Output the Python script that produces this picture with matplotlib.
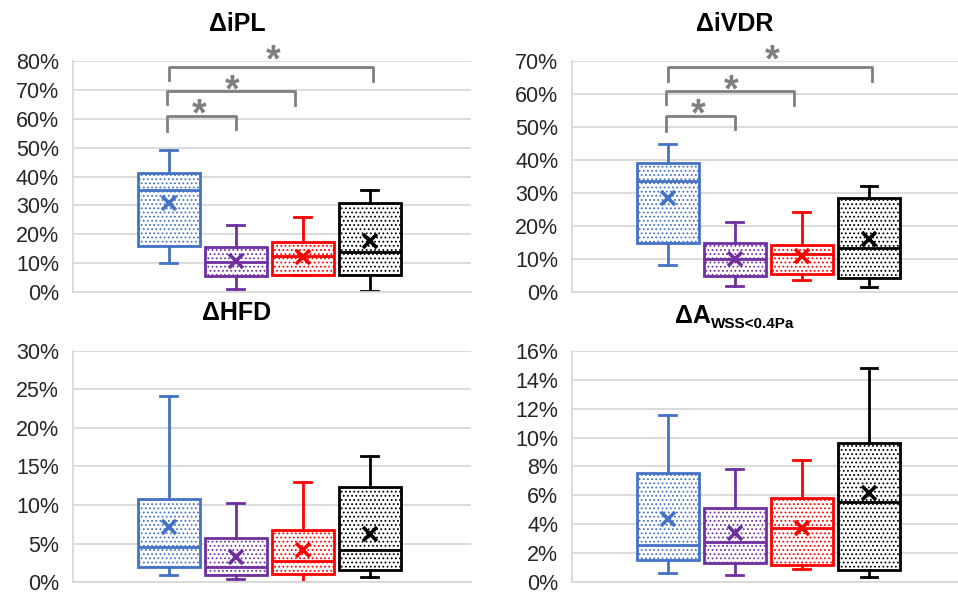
import matplotlib
matplotlib.use("Agg")
import matplotlib.pyplot as plt
from matplotlib.ticker import PercentFormatter, MultipleLocator

plt.rcParams['font.family'] = ['Liberation Sans', 'DejaVu Sans']
plt.rcParams['hatch.linewidth'] = 0.8

# Colores de los grupos
colores = ['#4472C4', '#7030A0', '#FF0000', '#000000']

# Datos (en %) : whisker bajo, Q1, mediana, Q3, whisker alto, media
ipl_lo = [9.9, 1.2, 5.8, 0.5]
ipl_q1 = [16.0, 5.5, 5.8, 5.8]
ipl_med = [35.3, 10.5, 12.4, 13.7]
ipl_q3 = [41.3, 15.7, 17.2, 30.7]
ipl_hi = [49.1, 23.2, 26.1, 35.3]
ipl_mean = [30.7, 10.8, 12.2, 17.5]

ivdr_lo = [8.2, 1.8, 3.6, 1.4]
ivdr_q1 = [15.0, 4.8, 5.4, 4.1]
ivdr_med = [33.7, 10.0, 11.5, 13.4]
ivdr_q3 = [39.1, 14.7, 14.2, 28.6]
ivdr_hi = [45.0, 21.3, 24.1, 32.2]
ivdr_mean = [28.5, 10.0, 10.9, 16.2]

hfd_lo = [0.9, 0.35, 0.0, 0.6]
hfd_q1 = [2.0, 0.9, 1.0, 1.6]
hfd_med = [4.5, 2.0, 2.7, 4.1]
hfd_q3 = [10.8, 5.75, 6.7, 12.4]
hfd_hi = [24.2, 10.2, 13.0, 16.4]
hfd_mean = [7.1, 3.3, 4.1, 6.2]

wss_lo = [0.65, 0.48, 0.88, 0.37]
wss_q1 = [1.52, 1.29, 1.18, 0.83]
wss_med = [2.56, 2.74, 3.71, 5.51]
wss_q3 = [7.56, 5.16, 5.79, 9.64]
wss_hi = [11.6, 7.86, 8.44, 14.8]
wss_mean = [4.36, 3.37, 3.71, 6.18]

# Corchetes de significancia (x izq, x der, y arriba, y pata izq, y pata der)
corch_x = [(0.97, 2.0), (0.97, 2.88), (1.0, 4.04)]
ast_x = [1.45, 1.95, 2.55]
ipl_corch_y = [61.0, 69.6, 77.9]
ipl_pata_izq = [55.8, 65.0, 73.3]
ipl_pata_der = [56.6, 64.7, 73.0]
ipl_ast_y = [64.3, 72.7, 83.1]
ivdr_corch_y = [53.4, 60.9, 68.2]
ivdr_pata_izq = [48.8, 56.9, 63.8]
ivdr_pata_der = [49.5, 56.6, 63.8]
ivdr_ast_y = [56.3, 63.6, 72.7]

fig = plt.figure(figsize=(9.58, 5.94), dpi=100)


def panel(rect, lo, q1, med, q3, hi, mean, ymax, paso, xmax):
    ax = fig.add_axes(rect)
    stats = []
    for i in range(4):
        stats.append(dict(whislo=lo[i], q1=q1[i], med=med[i], q3=q3[i],
                          whishi=hi[i], mean=mean[i], fliers=[]))
    bp = ax.bxp(stats, positions=[1, 2, 3, 4], widths=0.93, patch_artist=True,
                showmeans=True, showfliers=False, capwidths=0.25)
    for i, c in enumerate(colores):
        caja = bp['boxes'][i]
        caja.set_facecolor('white')
        caja.set_edgecolor(c)
        caja.set_hatch('....')
        caja.set_linewidth(2.0)
        bp['medians'][i].set(color=c, linewidth=2.0)
        for w in bp['whiskers'][2 * i:2 * i + 2]:
            w.set(color=c, linewidth=2.0)
        for cp in bp['caps'][2 * i:2 * i + 2]:
            cp.set(color=c, linewidth=2.0)
        bp['means'][i].set(marker='x', markeredgecolor=c, markerfacecolor=c,
                           markersize=10, markeredgewidth=2.6)
    ax.set_xlim(-0.43, xmax)
    ax.set_ylim(0, ymax)
    ax.yaxis.set_major_locator(MultipleLocator(paso))
    ax.yaxis.set_major_formatter(PercentFormatter(xmax=100, decimals=0))
    ax.set_xticks([])
    ax.yaxis.grid(True, color='#d9d9d9', linewidth=1.3)
    ax.set_axisbelow(True)
    for s in ['top', 'right']:
        ax.spines[s].set_visible(False)
    ax.spines['left'].set_color('#d9d9d9')
    ax.spines['bottom'].set_color('#d9d9d9')
    ax.spines['left'].set_linewidth(1.3)
    ax.spines['bottom'].set_linewidth(1.3)
    ax.tick_params(axis='y', length=0, pad=10, labelsize=15.5, labelcolor='#262626')
    return ax


def corchetes(ax, tops, izq, der, ast_y):
    for i in range(3):
        x0, x1 = corch_x[i]
        ax.plot([x0, x0, x1, x1], [izq[i], tops[i], tops[i], der[i]],
                color='#7f7f7f', linewidth=2.0, clip_on=False)
        ax.annotate('*', xy=(ast_x[i], ast_y[i]), xytext=(0, -14),
                    textcoords='offset points', ha='center', va='baseline',
                    fontsize=27, fontweight='bold', color='#7f7f7f',
                    annotation_clip=False)


ax1 = panel([0.0762, 0.5084, 0.4155, 0.3889], ipl_lo, ipl_q1, ipl_med, ipl_q3,
            ipl_hi, ipl_mean, 80, 10, 5.51)
corchetes(ax1, ipl_corch_y, ipl_pata_izq, ipl_pata_der, ipl_ast_y)
ax2 = panel([0.5971, 0.5084, 0.4029, 0.3889], ivdr_lo, ivdr_q1, ivdr_med, ivdr_q3,
            ivdr_hi, ivdr_mean, 70, 10, 5.33)
corchetes(ax2, ivdr_corch_y, ivdr_pata_izq, ivdr_pata_der, ivdr_ast_y)
ax3 = panel([0.0762, 0.0202, 0.4155, 0.3889], hfd_lo, hfd_q1, hfd_med, hfd_q3,
            hfd_hi, hfd_mean, 30, 5, 5.51)
ax4 = panel([0.5971, 0.0202, 0.4029, 0.3889], wss_lo, wss_q1, wss_med, wss_q3,
            wss_hi, wss_mean, 16, 2, 5.33)

# Titulos
fig.text(237 / 958, 1 - 24 / 594, 'ΔiPL', ha='center', va='center',
         fontsize=18, fontweight='bold')
fig.text(735 / 958, 1 - 24 / 594, 'ΔiVDR', ha='center', va='center',
         fontsize=18, fontweight='bold')
fig.text(237 / 958, 1 - 313 / 594, 'ΔHFD', ha='center', va='center',
         fontsize=18, fontweight='bold')
fig.text(675 / 958, 1 - 323 / 594, 'ΔA', ha='left', va='baseline',
         fontsize=18, fontweight='bold')
fig.text(711 / 958, 1 - 328 / 594, 'WSS<0.4Pa', ha='left', va='baseline',
         fontsize=11, fontweight='bold')

fig.savefig('out.png', dpi=100)
